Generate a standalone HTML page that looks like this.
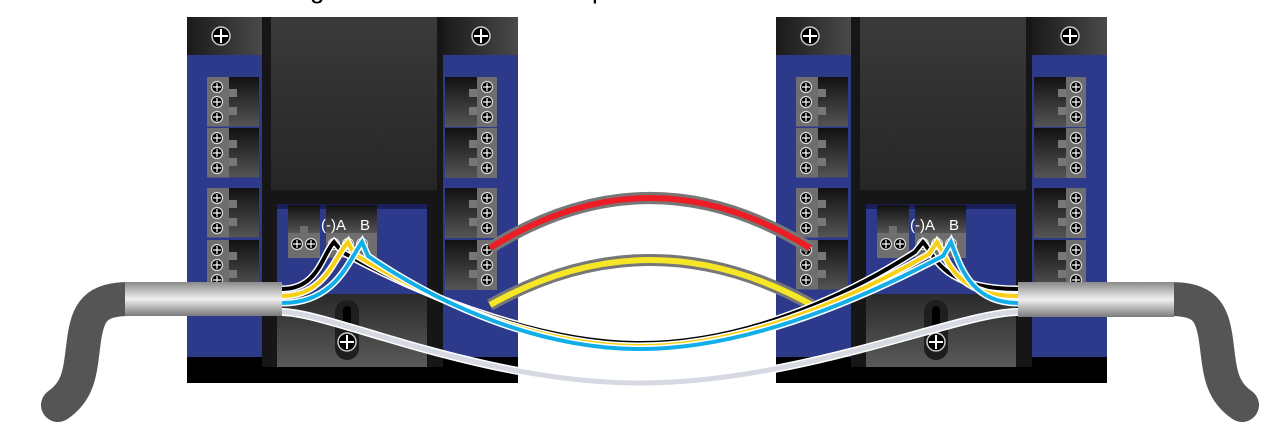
<!DOCTYPE html>
<html><head><meta charset="utf-8"><style>html,body{margin:0;padding:0;background:#fff;width:1272px;height:426px;overflow:hidden}</style></head>
<body>
<svg width="1272" height="426" viewBox="0 0 1272 426" xmlns="http://www.w3.org/2000/svg" font-family="Liberation Sans, sans-serif">
<defs>
<linearGradient id="blk" x1="0" x2="1" y1="0" y2="0"><stop offset="0" stop-color="#1a1a1a"/><stop offset="1" stop-color="#4a4a4a"/></linearGradient>
<linearGradient id="blkv" x1="0" x2="0" y1="0" y2="1"><stop offset="0" stop-color="#111"/><stop offset="1" stop-color="#555"/></linearGradient>
<linearGradient id="panel" x1="0" x2="0" y1="0" y2="1"><stop offset="0" stop-color="#3a3a3a"/><stop offset="1" stop-color="#262626"/></linearGradient>
<linearGradient id="low" x1="0" x2="0" y1="0" y2="1"><stop offset="0" stop-color="#2a2a2a"/><stop offset="1" stop-color="#5a5a5a"/></linearGradient>
<linearGradient id="cyl" x1="0" x2="0" y1="0" y2="1"><stop offset="0" stop-color="#8a8a8a"/><stop offset="0.5" stop-color="#f0f0f0"/><stop offset="1" stop-color="#7a7a7a"/></linearGradient>
<linearGradient id="bend" x1="0" x2="1" y1="0" y2="0"><stop offset="0" stop-color="#444"/><stop offset="0.6" stop-color="#6a6a6a"/><stop offset="1" stop-color="#444"/></linearGradient>
<g id="screw"><circle r="5.5" fill="#000" stroke="#ddd" stroke-width="1.2"/><path d="M-4 0H4M0 -4V4" stroke="#fff" stroke-width="1.2"/></g>
<g id="bscrew"><circle r="9" fill="#000" stroke="#ccc" stroke-width="1.5"/><path d="M-7 0H7M0 -7V7" stroke="#fff" stroke-width="2"/></g>
<g id="tl">
 <rect x="0" y="0" width="22" height="50" fill="#6e6e6e"/>
 <rect x="22" y="0" width="30" height="50" fill="url(#blkv)"/>
 <rect x="22" y="12" width="8" height="8" fill="#777"/><rect x="22" y="30" width="8" height="8" fill="#777"/>
 <use href="#screw" x="10" y="10"/><use href="#screw" x="10" y="25"/><use href="#screw" x="10" y="40"/>
 <line x1="0" y1="50" x2="52" y2="50" stroke="#2d3a8c" stroke-width="1"/>
</g>
<g id="tr">
 <rect x="32" y="0" width="20" height="50" fill="#6e6e6e"/>
 <rect x="0" y="0" width="32" height="50" fill="url(#blkv)"/>
 <rect x="24" y="12" width="8" height="8" fill="#777"/><rect x="24" y="30" width="8" height="8" fill="#777"/>
 <use href="#screw" x="42" y="10"/><use href="#screw" x="42" y="25"/><use href="#screw" x="42" y="40"/>
</g>
<g id="dev">
 <rect x="187" y="17" width="331" height="366" fill="#2d3a8c"/>
 <rect x="187" y="357" width="331" height="26" fill="#000"/>
 <rect x="187" y="17" width="75" height="38" fill="url(#blk)"/>
 <rect x="443" y="17" width="75" height="38" fill="url(#blk)"/>
 <use href="#bscrew" x="221" y="36"/>
 <use href="#bscrew" x="481" y="36"/>
 <rect x="262" y="17" width="181" height="350" fill="#161616"/>
 <rect x="271" y="17" width="166" height="173" fill="url(#panel)"/>
 <rect x="277" y="204" width="150" height="90" fill="#2d3a8c"/>
 <rect x="277" y="204" width="150" height="5" fill="#1a1f5a"/>
 <rect x="277" y="294" width="150" height="73" fill="url(#low)"/>
 <rect x="335" y="300" width="24" height="60" rx="12" fill="#1e1e1e"/>
 <rect x="343" y="306" width="8" height="22" rx="4" fill="#000"/>
 <use href="#bscrew" x="347" y="342"/>
 <use href="#tl" x="207" y="77"/><use href="#tl" x="207" y="128"/><use href="#tl" x="207" y="188"/><use href="#tl" x="207" y="240"/>
 <use href="#tr" x="445" y="77"/><use href="#tr" x="445" y="128"/><use href="#tr" x="445" y="188"/><use href="#tr" x="445" y="240"/>
 <rect x="288" y="205" width="32" height="28" fill="url(#blkv)"/>
 <rect x="288" y="233" width="32" height="25" fill="#6e6e6e"/>
 <rect x="300" y="226" width="8" height="8" fill="#6e6e6e"/>
 <use href="#screw" x="297" y="244"/><use href="#screw" x="311" y="244"/>
 <rect x="326" y="205" width="51" height="28" fill="url(#blkv)"/>
 <rect x="326" y="233" width="51" height="25" fill="#6e6e6e"/>
 <use href="#screw" x="334" y="244"/><use href="#screw" x="348" y="244"/><use href="#screw" x="362" y="244"/>
 <text x="321" y="230" font-size="15" fill="#fff">(-)A</text>
 <text x="360" y="230" font-size="15" fill="#fff">B</text>
</g>
</defs>
<rect width="1272" height="426" fill="#fff"/>
<text x="310" y="-2" font-size="26" fill="#000">g</text>
<text x="592" y="-2" font-size="26" fill="#000">p</text>
<use href="#dev"/>
<use href="#dev" x="589"/>
<!-- cables -->
<path d="M130 299 C95 299 88 312 84 340 C80 370 80 390 58 405" stroke="#555" stroke-width="34" fill="none" stroke-linecap="round"/>
<path d="M1170 299 C1205 299 1212 312 1216 340 C1220 370 1220 390 1242 405" stroke="#555" stroke-width="34" fill="none" stroke-linecap="round"/>
<rect x="125" y="282" width="157" height="34" fill="url(#cyl)"/>
<rect x="1018" y="282" width="156" height="35" fill="url(#cyl)"/>
<!-- red and yellow jumpers -->
<path d="M490 248 Q650 148 810 248" stroke="#777" stroke-width="12" fill="none"/>
<path d="M490 248 Q650 148 810 248" stroke="#ee1c25" stroke-width="6" fill="none"/>
<path d="M490 305 Q650 215 812 305" stroke="#777" stroke-width="12" fill="none"/>
<path d="M490 305 Q650 215 812 305" stroke="#f5e626" stroke-width="6" fill="none"/>
<!-- white wire -->
<path d="M282 312 C330 312 480 383 640 383 C800 383 960 312 1018 312" stroke="#fff" stroke-width="8" fill="none"/>
<path d="M282 312 C330 312 480 383 640 383 C800 383 960 312 1018 312" stroke="#d6d9e2" stroke-width="5" fill="none"/>
<!-- signal wires -->
<g fill="none" stroke-linejoin="miter">
<path d="M282 289 C318 289 322 255 334 242 L342 252 C420 295 540 343 640 343 C740 343 840 300 915 252 L923 242 C935 255 940 289 1018 289" stroke="#fff" stroke-width="7"/>
<path d="M282 289 C318 289 322 255 334 242 L342 252 C420 295 540 343 640 343 C740 343 840 300 915 252 L923 242 C935 255 940 289 1018 289" stroke="#000" stroke-width="4"/>
<path d="M282 296 C325 296 334 258 348 242 L354 254 C430 300 540 346 640 346 C740 346 845 302 929 254 L937 242 C948 260 955 296 1018 296" stroke="#fff" stroke-width="7"/>
<path d="M282 296 C325 296 334 258 348 242 L354 254 C430 300 540 346 640 346 C740 346 845 302 929 254 L937 242 C948 260 955 296 1018 296" stroke="#f7cf13" stroke-width="4"/>
<path d="M282 303 C335 303 348 262 362 242 L368 256 C440 305 540 349 640 349 C740 349 850 305 943 256 L951 242 C960 265 970 303 1018 303" stroke="#fff" stroke-width="7"/>
<path d="M282 303 C335 303 348 262 362 242 L368 256 C440 305 540 349 640 349 C740 349 850 305 943 256 L951 242 C960 265 970 303 1018 303" stroke="#12aee8" stroke-width="4"/>
</g>
</svg>
</body></html>
